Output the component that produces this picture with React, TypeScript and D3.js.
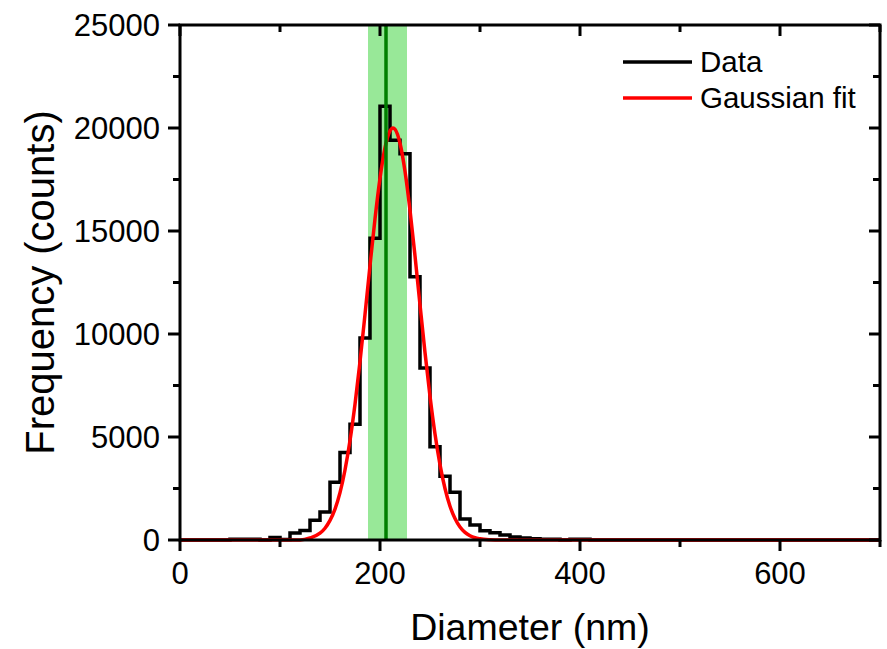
import React from "react";
import * as d3 from "d3";

// histogram bins (lower edge, nm) and counts
const binLow = [40, 50, 60, 70, 80, 90, 100, 110, 120, 130, 140, 150, 160, 170, 180, 190, 200, 210, 220, 230, 240, 250, 260, 270, 280, 290, 300, 310, 320, 330, 340, 350, 360, 370, 380, 390, 400, 410];
const binCounts = [0, 40, 40, 40, 0, 120, 30, 340, 460, 960, 1360, 2800, 4250, 5620, 9800, 14650, 21050, 19400, 18750, 12780, 8350, 4530, 3100, 2320, 1020, 730, 450, 350, 240, 150, 100, 60, 40, 40, 0, 40, 40, 0];
const binWidth = 10;

// gaussian fit curve
const fitX = [0, 120, 130, 140, 145, 150, 155, 160, 165, 170, 175, 180, 185, 190, 195, 200, 205, 210, 213, 215, 220, 225, 230, 235, 240, 245, 250, 255, 260, 265, 270, 275, 280, 285, 290, 295, 300, 310, 320, 700];
const fitY = [0, 0, 100, 330, 570, 950, 1500, 2300, 3400, 4830, 6590, 8660, 10950, 13320, 15590, 17560, 19040, 19860, 20000, 19940, 19260, 17900, 16010, 13790, 11420, 9100, 6980, 5150, 3660, 2500, 1640, 1040, 630, 370, 210, 110, 60, 15, 0, 0];

// mean diameter and its spread (green line + band)
const meanDiameter = 206;
const bandLow = 188;
const bandHigh = 227;

const xMajor = [0, 200, 400, 600];
const xMinor = [100, 300, 500, 700];
const yMajor = [0, 5000, 10000, 15000, 20000, 25000];
const yMinor = [2500, 7500, 12500, 17500, 22500];

const legendItems = [
  { label: "Data", color: "#000000" },
  { label: "Gaussian fit", color: "#ff0000" },
];

const W = 887;
const H = 649;
const margin = { top: 25, right: 7, bottom: 109, left: 180 };
const font = "'Liberation Sans', Arial, sans-serif";

export default function App() {
  const x = d3.scaleLinear().domain([0, 700]).range([margin.left, W - margin.right]);
  const y = d3.scaleLinear().domain([0, 25000]).range([H - margin.bottom, margin.top]);
  const x0 = x(0), x1 = x(700), y0 = y(0), y1 = y(25000);

  // step outline of the histogram
  const pts: [number, number][] = [[0, 0]];
  binLow.forEach((b, i) => pts.push([b, binCounts[i]]));
  pts.push([binLow[binLow.length - 1] + binWidth, 0]);
  pts.push([700, 0]);
  const histLine = d3.line<[number, number]>()
    .x(d => x(d[0]))
    .y(d => y(d[1]))
    .curve(d3.curveStepAfter);

  const fitLine = d3.line<number>()
    .x((d, i) => x(fitX[i]))
    .y(d => y(d))
    .curve(d3.curveMonotoneX);

  const axisStyle = { stroke: "#000", strokeWidth: 3, fill: "none" };

  return (
    <svg width={W} height={H} style={{ display: "block", position: "absolute", left: 0, top: 0 }} fontFamily={font}>
      <rect x={0} y={0} width={W} height={H} fill="#fff" />
      <rect x={x(bandLow)} y={y1} width={x(bandHigh) - x(bandLow)} height={y0 - y1} fill="#98e898" />
      <path d={histLine(pts) || ""} fill="none" stroke="#000" strokeWidth={3.5} />
      <path d={fitLine(fitY) || ""} fill="none" stroke="#ff0000" strokeWidth={3.5} />
      <line x1={x(meanDiameter)} x2={x(meanDiameter)} y1={y1} y2={y0} stroke="#007f00" strokeWidth={3.5} />

      {/* frame */}
      <rect x={x0} y={y1} width={x1 - x0} height={y0 - y1} {...axisStyle} />

      {/* bottom axis, ticks out */}
      {xMajor.map(t => <line key={"bx" + t} x1={x(t)} x2={x(t)} y1={y0} y2={y0 + 11} {...axisStyle} />)}
      {xMinor.map(t => <line key={"bm" + t} x1={x(t)} x2={x(t)} y1={y0} y2={y0 + 7} {...axisStyle} />)}
      {xMajor.map(t => (
        <text key={"lx" + t} x={x(t)} y={y0 + 44} textAnchor="middle" fontSize={31}>{t}</text>
      ))}
      {/* top axis, ticks in */}
      {xMajor.map(t => <line key={"tx" + t} x1={x(t)} x2={x(t)} y1={y1} y2={y1 + 11} {...axisStyle} />)}
      {xMinor.map(t => <line key={"tm" + t} x1={x(t)} x2={x(t)} y1={y1} y2={y1 + 7} {...axisStyle} />)}

      {/* left axis, ticks out */}
      {yMajor.map(t => <line key={"ly" + t} x1={x0 - 12} x2={x0} y1={y(t)} y2={y(t)} {...axisStyle} />)}
      {yMinor.map(t => <line key={"lm" + t} x1={x0 - 7} x2={x0} y1={y(t)} y2={y(t)} {...axisStyle} />)}
      {yMajor.map(t => (
        <text key={"tly" + t} x={x0 - 20} y={y(t) + 11} textAnchor="end" fontSize={31}>{t}</text>
      ))}
      {/* right axis, ticks in */}
      {yMajor.map(t => <line key={"ry" + t} x1={x1 - 11} x2={x1} y1={y(t)} y2={y(t)} {...axisStyle} />)}
      {yMinor.map(t => <line key={"rm" + t} x1={x1 - 7} x2={x1} y1={y(t)} y2={y(t)} {...axisStyle} />)}

      <text x={(x0 + x1) / 2} y={640} textAnchor="middle" fontSize={37.5}>Diameter (nm)</text>
      <text transform={`translate(${54},${(y0 + y1) / 2}) rotate(-90)`} textAnchor="middle" fontSize={40}>Frequency (counts)</text>

      {/* legend */}
      {legendItems.map((d, i) => (
        <g key={d.label} transform={`translate(623,${62 + i * 36})`}>
          <line x1={0} x2={69} y1={0} y2={0} stroke={d.color} strokeWidth={3.5} />
          <text x={77} y={10} fontSize={29.5}>{d.label}</text>
        </g>
      ))}
    </svg>
  );
}
